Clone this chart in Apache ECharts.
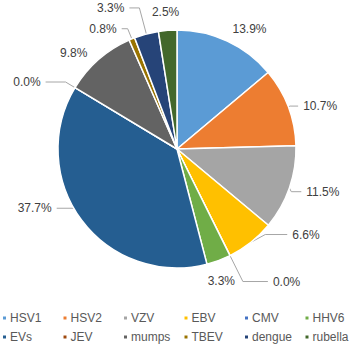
<!DOCTYPE html>
<html>
<head>
<meta charset="utf-8">
<script src="https://cdn.jsdelivr.net/npm/echarts@6/dist/echarts.min.js"></script>
<style>
  html, body { margin: 0; padding: 0; background: #fff; }
  #chart { width: 358px; height: 356px; }
</style>
</head>
<body>
<div id="chart"></div>
<script>
var names = ['HSV1', 'HSV2', 'VZV', 'EBV', 'CMV', 'HHV6', 'EVs', 'JEV', 'mumps', 'TBEV', 'dengue', 'rubella'];
var values = [13.9, 10.7, 11.5, 6.6, 0.0, 3.3, 37.7, 0.0, 9.8, 0.8, 3.3, 2.5];
var colors = ['#5B9BD5', '#ED7D31', '#A5A5A5', '#FFC000', '#4472C4', '#70AD47',
              '#255E91', '#9E480E', '#636363', '#997300', '#264478', '#43682B'];

// leader line lengths per slice (Excel "best fit" look), 0 second leg = no visible line
var leadLen = [10, 2, 2, 4, 29, 20, 0, 11, 9, 11, 27, 18];
var leadLen2 = [0, 8, 10, 22, 25, 0, 25, 20, 0, 6, 10, 0];
var showLead = [false, true, true, true, true, false, true, true, false, true, true, false];
// small label nudges [dx, dy]
var nudge = { 0: [-4, -3], 2: [0, 3], 3: [12, -11], 5: [-23, 2], 6: [0, -12], 11: [18, 0] };

var chart = echarts.init(document.getElementById('chart'), null, { renderer: 'svg' });

var pieData = names.map(function(n, i) {
  return {
    name: n,
    value: values[i],
    itemStyle: { color: colors[i] },
    labelLine: { show: showLead[i], length: leadLen[i], length2: leadLen2[i] }
  };
});

// Excel-style legend grid: 6 fixed-width columns, 2 rows
var legends = names.map(function(n, i) {
  return {
    data: [n],
    left: 1 + (i % 6) * 60.5,
    top: i < 6 ? 312 : 331,
    itemWidth: 5,
    itemHeight: 5,
    itemGap: 0,
    padding: 0,
    icon: 'rect',
    textStyle: { color: '#595959', fontSize: 12, fontFamily: 'Liberation Sans, Arial', padding: [0, 0, 0, -2] }
  };
});

chart.setOption({
  animation: false,
  color: colors,
  legend: legends,
  series: [{
    type: 'pie',
    center: [177, 149],
    radius: [0, 119],
    startAngle: 90,
    clockwise: true,
    minAngle: 0,
    avoidLabelOverlap: false,
    data: pieData,
    itemStyle: { borderColor: '#fff', borderWidth: 1.5 },
    label: {
      show: true,
      position: 'outside',
      color: '#404040',
      fontSize: 12,
      fontFamily: 'Liberation Sans, Arial',
      formatter: function(p) { return p.value.toFixed(1) + '%'; }
    },
    labelLine: { show: true, lineStyle: { color: '#A6A6A6', width: 1 } },
    labelLayout: function(p) {
      var n = nudge[p.dataIndex];
      if (!n) return {};
      var out = { dx: n[0], dy: n[1] };
      var pts = p.labelLinePoints;
      if (pts && showLead[p.dataIndex]) {
        // keep the leader attached: first point stays on the slice, the rest follow the label
        out.labelLinePoints = pts.map(function(pt, k) {
          return k === 0 ? [pt[0], pt[1]] : [pt[0] + n[0], pt[1] + n[1]];
        });
      }
      return out;
    }
  }]
});
</script>
</body>
</html>
